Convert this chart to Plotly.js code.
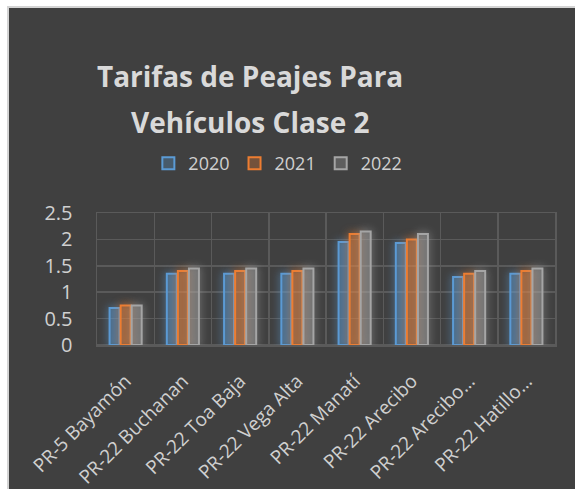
<!DOCTYPE html>
<html>
<head>
<meta charset="utf-8">
<script src="https://cdn.plot.ly/plotly-3.0.1.min.js"></script>
<style>
  html, body { margin: 0; padding: 0; background: #ffffff; }
  #frame { position: absolute; left: 7px; top: 6px; width: 566px; height: 481px;
           border-left: 2px solid #d4d4d4; border-top: 2px solid #d4d4d4; background: #404040; }
  #chart { width: 566px; height: 481px; }
  .barlayer g.trace:nth-of-type(1) { filter: drop-shadow(0 0 4px rgba(91,155,213,0.9)); }
  .barlayer g.trace:nth-of-type(2) { filter: drop-shadow(0 0 4px rgba(237,125,49,0.9)); }
  .barlayer g.trace:nth-of-type(3) { filter: drop-shadow(0 0 4px rgba(165,165,165,0.9)); }
</style>
</head>
<body>
<div id="frame"><div id="chart"></div></div>
<script>
const categories = ["PR-5 Bayamón", "PR-22 Buchanan", "PR-22 Toa Baja", "PR-22 Vega Alta",
                    "PR-22 Manatí", "PR-22 Arecibo", "PR-22 Arecibo…", "PR-22 Hatillo…"];
const v2020 = [0.70, 1.35, 1.35, 1.35, 1.95, 1.93, 1.29, 1.35];
const v2021 = [0.75, 1.40, 1.40, 1.40, 2.10, 2.00, 1.35, 1.40];
const v2022 = [0.75, 1.45, 1.45, 1.45, 2.15, 2.10, 1.40, 1.45];
const seriesNames = ["2020", "2021", "2022"];
const titleLine1 = "Tarifas de Peajes Para";
const titleLine2 = "Vehículos Clase 2";
const lineColors = ["#5b9bd5", "#ed7d31", "#a5a5a5"];
const fillColors = ["rgba(91,155,213,0.3)", "rgba(237,125,49,0.3)", "rgba(165,165,165,0.3)"];
const series = [v2020, v2021, v2022];

const data = series.map((vals, i) => ({
  type: "bar",
  name: seriesNames[i],
  x: categories,
  y: vals,
  marker: { color: fillColors[i], line: { color: lineColors[i], width: 2 } },
  hoverinfo: "x+y+name"
}));

const gridColor = "#5a5a5a";
const titleFont = { size: 28, color: "#d9d9d9", family: "'Open Sans', sans-serif" };
const layout = {
  width: 566, height: 481,
  paper_bgcolor: "#404040",
  plot_bgcolor: "#404040",
  font: { family: "'Open Sans', sans-serif", color: "#d0d0d0" },
  margin: { l: 88, r: 20, t: 205, b: 144 },
  title: {
    text: "<b>" + titleLine1 + "</b>",
    font: titleFont,
    xref: "container", x: 0.426, xanchor: "center",
    yref: "container", y: 1 - 59 / 481, yanchor: "top"
  },
  annotations: [{
    text: "<b>" + titleLine2 + "</b>",
    font: titleFont,
    xref: "paper", x: (241 - 88) / 458, xanchor: "center",
    yref: "paper", y: 1 + (205 - 114) / 132, yanchor: "middle",
    showarrow: false
  }],
  barmode: "group",
  bargap: 0.42,
  bargroupgap: 0.1,
  showlegend: true,
  legend: {
    orientation: "h",
    xref: "container", x: 0.475, xanchor: "center",
    yref: "container", y: 1 - 137 / 481, yanchor: "top",
    font: { size: 18, color: "#d0d0d0" },
    bgcolor: "rgba(0,0,0,0)",
    itemwidth: 30,
    traceorder: "normal"
  },
  xaxis: {
    type: "category",
    tickson: "boundaries",
    showgrid: true, gridcolor: gridColor, gridwidth: 1.5,
    showline: true, linecolor: gridColor, linewidth: 1.5, mirror: true,
    ticks: "",
    tickangle: -45,
    ticklabelstandoff: 16,
    tickfont: { size: 19, color: "#d0d0d0" },
    fixedrange: true
  },
  yaxis: {
    range: [0, 2.5], dtick: 0.5,
    showgrid: true, gridcolor: gridColor, gridwidth: 1.5,
    zeroline: true, zerolinecolor: gridColor, zerolinewidth: 1.5,
    showline: true, linecolor: gridColor, linewidth: 1.5, mirror: true,
    ticks: "",
    ticklabelstandoff: 19,
    tickfont: { size: 20, color: "#d0d0d0" },
    fixedrange: true
  }
};

Plotly.newPlot("chart", data, layout, { displayModeBar: false, staticPlot: true });
</script>
</body>
</html>
